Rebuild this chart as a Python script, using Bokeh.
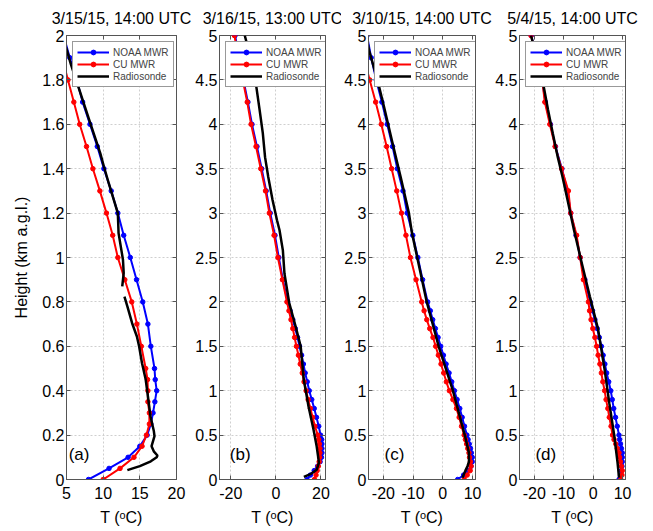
import numpy as np
from bokeh.plotting import figure
from bokeh.models import (Range1d, FixedTicker, CustomJSTickFormatter, LinearAxis,
                          Legend, LegendItem, Label)
from bokeh.layouts import row
from bokeh.embed import file_html
from bokeh.resources import INLINE

FONT = "Liberation Sans"

# ---------------- data ----------------
# MWR retrieval heights (km a.g.l.)
H_MWR_A = [0, 0.05, 0.1, 0.15, 0.2, 0.25, 0.3, 0.35, 0.4, 0.45, 0.5, 0.6, 0.7, 0.8,
           0.9, 1.0, 1.1, 1.2, 1.3, 1.4, 1.5, 1.6, 1.7, 1.8, 1.9, 2.0]
H_MWR = [0, 0.05, 0.1, 0.15, 0.2, 0.25, 0.3, 0.35, 0.4, 0.45, 0.5, 0.6, 0.7, 0.8,
         0.9, 1.0, 1.1, 1.2, 1.3, 1.4, 1.5, 1.6, 1.7, 1.8, 1.9, 2.0, 2.25, 2.5, 2.75,
         3.0, 3.25, 3.5, 3.75, 4.0, 4.25, 4.5, 4.75, 5.0]

# (a) 3/15/15, 14:00 UTC
a_noaa = [8.0, 10.8, 13.4, 15.0, 16.0, 16.5, 16.8, 17.05, 17.3, 17.1, 17.0, 16.5, 16.1,
          15.4, 14.55, 13.7, 12.8, 12.0, 11.1, 10.1, 9.2, 8.2, 7.2, 6.4, 5.45, 4.6]
a_cu = [10.0, 12.3, 14.2, 15.3, 15.9, 16.3, 16.3, 16.1, 16.1, 16.05, 15.8, 15.2, 14.6,
        13.9, 12.95, 12.0, 11.3, 10.45, 9.55, 8.6, 7.73, 6.8, 6.0, 5.2, 4.4, 3.6]
a_rs_h = [0.042, 0.06, 0.082, 0.1, 0.108, 0.127, 0.15, 0.195, 0.22, 0.285, 0.375, 0.45,
          0.524, 0.6, 0.644, 0.704, 0.78, 0.824, np.nan, 0.87, 0.93, 0.99, 1.11, 1.2,
          1.26, 1.33, 1.41, 1.47, 1.6, 1.74, 1.87, 1.94, 2.0]
a_rs_t = [13.3, 15.0, 16.5, 17.3, 17.4, 16.9, 16.6, 17.0, 16.9, 16.45, 16.1, 15.8,
          15.3, 14.9, 14.6, 13.95, 13.3, 12.9, np.nan, 12.6, 12.8, 12.7, 12.1, 12.0,
          11.45, 10.8, 10.1, 9.6, 8.3, 6.9, 5.6, 5.0, 4.4]

# (b) 3/16/15, 13:00 UTC
b_noaa = [13.8, 15.3, 17.0, 18.5, 19.6, 20.2, 20.4, 20.4, 20.4, 20.3, 19.8, 19.0, 18.0,
          17.0, 15.9, 14.8, 13.9, 13.0, 12.2, 11.4, 10.5, 9.6, 8.6, 7.5, 6.3, 5.2, 3.1,
          1.3, -0.4, -2.5, -4.3, -6.3, -8.4, -10.6, -12.4, -14.4, -16.2, -18.1]
b_cu = [17.1, 17.8, 18.3, 18.8, 19.2, 19.4, 19.5, 19.5, 19.3, 19.0, 18.6, 17.3, 16.3,
        15.3, 14.3, 13.4, 12.5, 11.7, 10.8, 10.0, 9.1, 8.3, 7.5, 6.7, 5.8, 4.9, 2.9,
        0.9, -0.8, -2.9, -4.6, -6.7, -8.8, -11.0, -12.7, -14.7, -16.5, -18.4]
b_rs_h = [0.03, 0.06, 0.11, 0.19, 0.37, 0.56, 0.82, 1.12, 1.5, 1.72, 1.99, 2.32, 2.58,
          2.81, 2.92, 3.15, 3.41, 3.63, 3.9, 4.16, 4.5, 4.76, 5.0]
b_rs_t = [12.4, 15.3, 18.1, 19.1, 18.1, 16.7, 14.5, 12.4, 11.0, 8.8, 5.9, 3.8, 3.1,
          1.6, 0.5, -1.5, -3.4, -4.8, -5.8, -7.2, -9.1, -11.3, -13.8]

# (c) 3/10/15, 14:00 UTC
c_noaa = [5.0, 7.0, 8.6, 9.5, 9.9, 9.9, 9.6, 9.3, 8.9, 8.5, 8.1, 7.3, 6.5, 5.7, 4.8,
          3.9, 3.0, 2.1, 1.1, 0.2, -0.7, -1.6, -2.5, -3.4, -4.2, -5.1, -6.8, -8.4,
          -10.1, -12.0, -13.4, -15.3, -16.9, -18.7, -20.5, -22.4, -24.1, -25.5]
c_cu = [7.2, 8.2, 9.2, 9.5, 9.3, 9.0, 8.8, 8.4, 8.0, 7.6, 7.2, 6.3, 5.5, 4.6, 3.4, 2.2,
        1.2, 0.3, -0.6, -1.5, -2.4, -3.3, -4.4, -5.4, -6.3, -7.1, -9.0, -10.9, -12.4,
        -13.9, -15.5, -17.2, -18.9, -20.7, -22.6, -24.6, -26.6, -28.5]
c_rs_h = [0.02, 0.1, 0.15, 0.2, 0.3, 0.5, 1.0, 1.5, 2.0, 2.78, 3.0, 3.41, 3.8, 4.2, 4.5,
          4.83, 5.0]
c_rs_t = [6.6, 7.6, 8.3, 8.8, 8.8, 7.4, 3.4, -1.4, -5.4, -10.4, -11.4, -14.2, -17.0,
          -19.8, -22.0, -24.8, -25.8]

# (d) 5/4/15, 14:00 UTC
d_noaa = [8.8, 9.3, 9.6, 9.8, 9.9, 9.9, 9.9, 9.6, 9.3, 9.0, 8.8, 8.2, 7.6, 7.0, 6.5,
          6.0, 5.3, 4.6, 4.0, 3.4, 2.8, 2.1, 1.4, 0.6, -0.2, -1.0, -2.8, -4.4, -5.8,
          -7.6, -8.7, -10.6, -12.8, -14.5, -16.2, -17.3, -19.1, -21.0]
d_cu = [9.4, 9.8, 9.9, 9.6, 9.3, 9.0, 8.8, 8.2, 7.7, 7.1, 6.6, 6.1, 5.5, 5.0, 4.4, 3.9,
        3.3, 2.8, 2.3, 1.7, 1.2, 0.6, -0.1, -0.7, -1.2, -1.6, -3.3, -4.4, -5.6, -7.6,
        -8.4, -10.7, -12.9, -14.7, -16.4, -17.3, -19.2, -21.1]
d_rs_h = [0.02, 0.19, 0.49, 0.86, 1.24, 1.69, 2.06, 2.43, 2.81, 3.15, 3.41, 3.63, 3.9,
          4.16, 4.5, 4.75, 5.0]
d_rs_t = [8.8, 8.3, 7.2, 5.5, 3.9, 1.7, -1.1, -3.8, -6.5, -8.7, -10.4, -12.0, -13.7,
          -15.3, -17.2, -19.1, -21.1]

TITLES = ["3/15/15, 14:00 UTC", "3/16/15, 13:00 UTC", "3/10/15, 14:00 UTC",
          "5/4/15, 14:00 UTC"]
LETTERS = ["(a)", "(b)", "(c)", "(d)"]
XTICKS_A = [5, 10, 15, 20]
XTICKS_B = [-20, 0, 20]
XTICKS_CD = [-20, -10, 0, 10]
YTICKS_A = [0, 0.2, 0.4, 0.6, 0.8, 1.0, 1.2, 1.4, 1.6, 1.8, 2.0]
YTICKS_BCD = [0, 0.5, 1.0, 1.5, 2.0, 2.5, 3.0, 3.5, 4.0, 4.5, 5.0]
SERIES = ["NOAA MWR", "CU MWR", "Radiosonde"]

AX = "#555555"
FMT = "return String(Math.round(tick*1000)/1000);"
FIG_H = 528


def style_axis(ax, standoff):
    ax.axis_line_color = AX
    ax.major_tick_line_color = AX
    ax.major_tick_in = 4
    ax.major_tick_out = 0
    ax.minor_tick_line_color = None
    ax.major_label_text_font = FONT
    ax.major_label_text_font_size = "16px"
    ax.major_label_text_color = "black"
    ax.major_label_standoff = standoff
    ax.axis_label_text_font = FONT
    ax.axis_label_text_font_size = "16px"
    ax.axis_label_text_font_style = "normal"
    ax.axis_label_text_color = "black"


def blank_axis(ticks):
    a = LinearAxis(ticker=FixedTicker(ticks=ticks),
                   formatter=CustomJSTickFormatter(code="return '';"),
                   major_label_standoff=0, major_label_text_font_size="1px",
                   axis_line_color=None, major_tick_line_color=AX,
                   major_tick_in=4, major_tick_out=0, minor_tick_line_color=None)
    return a


def panel(title, letter, letter_x, letter_y, xr, yr, xticks, yticks, width, bl, br,
          h_mwr, noaa, cu, rs_h, rs_t, ylabel=None):
    p = figure(width=width, height=FIG_H, x_range=Range1d(*xr), y_range=Range1d(*yr),
               output_backend="svg", toolbar_location=None,
               min_border_left=bl, min_border_right=br,
               min_border_top=35, min_border_bottom=FIG_H - 35 - 445,
               background_fill_color="white", border_fill_color="white")
    p.title.text = title
    p.title.align = "center"
    p.title.vertical_align = "top"
    p.title.text_font = FONT
    p.title.text_font_size = "16px"
    p.title.text_font_style = "normal"
    p.title.text_color = "black"
    p.title.standoff = 14

    p.outline_line_color = AX
    p.outline_line_width = 1

    p.xaxis.ticker = FixedTicker(ticks=xticks)
    p.yaxis.ticker = FixedTicker(ticks=yticks)
    p.xaxis.formatter = CustomJSTickFormatter(code=FMT)
    p.yaxis.formatter = CustomJSTickFormatter(code=FMT)
    style_axis(p.xaxis[0], 7)
    style_axis(p.yaxis[0], 2)
    p.xaxis.axis_label = "T (ᵒC)"
    p.xaxis.axis_label_standoff = 7
    if ylabel:
        p.yaxis.axis_label = ylabel
        p.yaxis.axis_label_standoff = 9

    p.add_layout(blank_axis(xticks), "above")
    p.add_layout(blank_axis(yticks), "right")

    for g in (p.xgrid, p.ygrid):
        g.grid_line_color = "#cfcfcf"
        g.grid_line_dash = "2 2"
        g.grid_line_width = 1
    p.xgrid.ticker = FixedTicker(ticks=xticks)
    p.ygrid.ticker = FixedTicker(ticks=yticks)

    hm = np.array(h_mwr, dtype=float)
    lb = p.line(np.array(noaa, dtype=float), hm, line_color="#0000ff", line_width=2)
    sb = p.scatter(np.array(noaa, dtype=float), hm, size=4.5, fill_color="#0000ff",
                   line_color="#0000ff")
    lr = p.line(np.array(cu, dtype=float), hm, line_color="#ff0000", line_width=2)
    sr = p.scatter(np.array(cu, dtype=float), hm, size=4.5, fill_color="#ff0000",
                   line_color="#ff0000")
    lk = p.line(np.array(rs_t, dtype=float), np.array(rs_h, dtype=float),
                line_color="black", line_width=2.5)

    legend = Legend(items=[LegendItem(label=SERIES[0], renderers=[lb, sb]),
                           LegendItem(label=SERIES[1], renderers=[lr, sr]),
                           LegendItem(label=SERIES[2], renderers=[lk])],
                    location="top_left", margin=6, padding=4, spacing=0,
                    label_text_font=FONT, label_text_font_size="10px",
                    label_height=12, glyph_height=12, glyph_width=32,
                    label_standoff=4, border_line_color="#333333",
                    border_line_width=1, background_fill_color="white",
                    background_fill_alpha=1.0)
    p.add_layout(legend)

    p.add_layout(Label(x=letter_x, y=letter_y, text=letter, text_font=FONT,
                       text_font_size="17px", text_baseline="middle",
                       text_align="left", text_color="black"))
    return p


pa = panel(TITLES[0], LETTERS[0], 5.3, 0.112, (5, 20), (0, 2), XTICKS_A, YTICKS_A,
           192, 66, 16, H_MWR_A, a_noaa, a_cu, a_rs_h, a_rs_t,
           ylabel="Height (km a.g.l.)")
pb = panel(TITLES[1], LETTERS[1], -20.4, 0.28, (-25, 22), (0, 5), XTICKS_B, YTICKS_BCD,
           149, 24, 16, H_MWR, b_noaa, b_cu, b_rs_h, b_rs_t)
pc = panel(TITLES[2], LETTERS[2], -19.6, 0.28, (-25, 11), (0, 5), XTICKS_CD, YTICKS_BCD,
           151, 24, 17, H_MWR, c_noaa, c_cu, c_rs_h, c_rs_t)
pd = panel(TITLES[3], LETTERS[3], -19.6, 0.28, (-25, 11), (0, 5), XTICKS_CD, YTICKS_BCD,
           153, 24, 20, H_MWR, d_noaa, d_cu, d_rs_h, d_rs_t)

layout = row(pa, pb, pc, pd, spacing=0)

with open("out.html", "w") as f:
    f.write(file_html(layout, INLINE))
